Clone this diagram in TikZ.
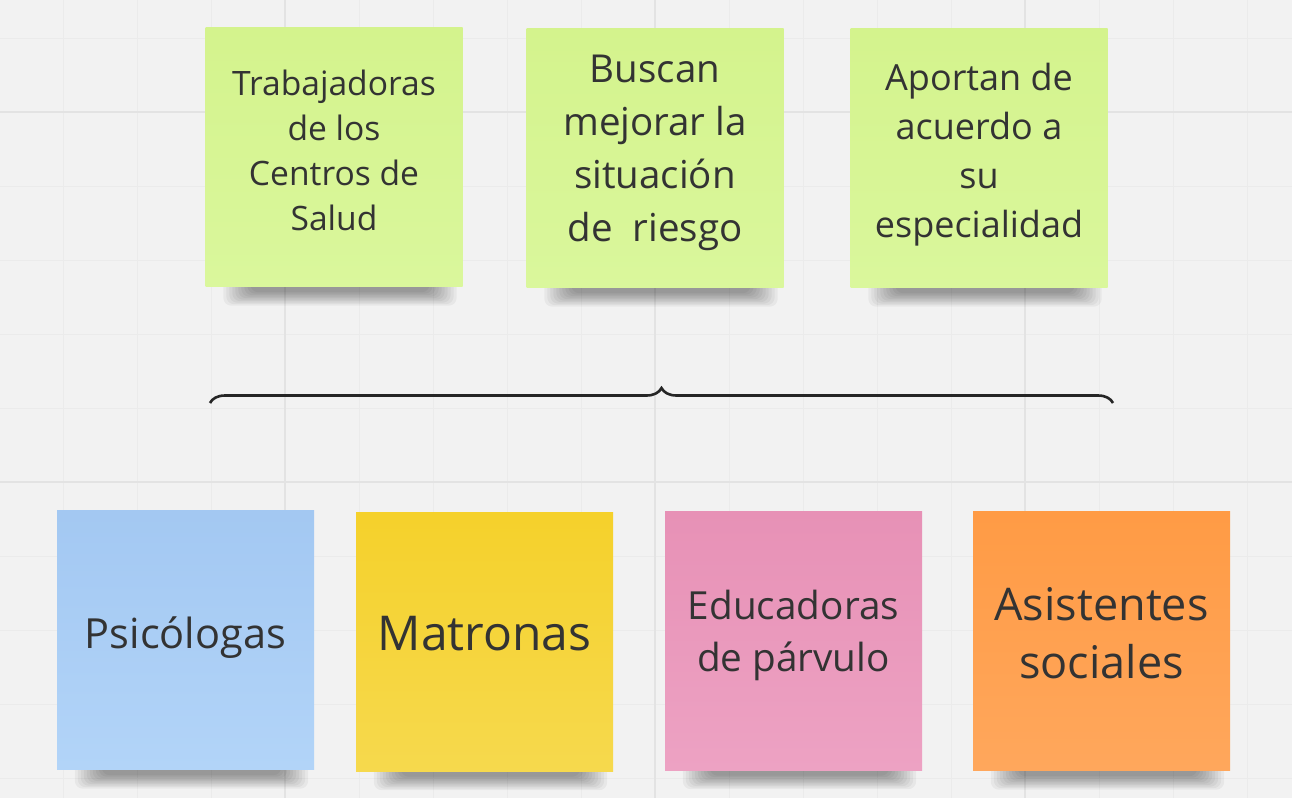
\documentclass[tikz,border=0pt]{standalone}
\usepackage{fontspec}
\setmainfont{Open Sans}
\usetikzlibrary{backgrounds,decorations.pathreplacing}

\definecolor{boardbg}{HTML}{F2F2F2}
\definecolor{gridminor}{HTML}{EBEBEB}
\definecolor{gridmajor}{HTML}{E3E3E3}
\definecolor{inktext}{HTML}{333333}
\definecolor{greenA}{HTML}{D4F38D}
\definecolor{greenB}{HTML}{DAF79C}
\definecolor{blueA}{HTML}{A3C8F2}
\definecolor{blueB}{HTML}{B2D4F8}
\definecolor{yellowA}{HTML}{F5D12B}
\definecolor{yellowB}{HTML}{F6D94D}
\definecolor{pinkA}{HTML}{E791B6}
\definecolor{pinkB}{HTML}{EDA2C3}
\definecolor{orangeA}{HTML}{FF9B45}
\definecolor{orangeB}{HTML}{FFA75C}

\begin{document}
\begin{tikzpicture}[
                x=1pt, y=-1pt,
                every node/.style={inner sep=0pt, text=inktext, align=center},
                sticky/.style={minimum width=257pt, minimum height=259pt},
                greennote/.style={sticky, top color=greenA, bottom color=greenB},
                bluenote/.style={sticky, top color=blueA, bottom color=blueB},
                yellownote/.style={sticky, top color=yellowA, bottom color=yellowB},
                pinknote/.style={sticky, top color=pinkA, bottom color=pinkB},
                orangenote/.style={sticky, top color=orangeA, bottom color=orangeB},
                bracket/.style={decorate, decoration={brace, amplitude=15pt},
                        line width=2.6pt, draw=black!85}
            ]
            \useasboundingbox (0,0) rectangle (1292,798);

            % top row
            \node[greennote] (trab) at (334,157) {};
            \node[font=\fontsize{33.6}{45}\selectfont] at ([yshift=7pt]trab)
                {Trabajadoras\\de los\\Centros de\\Salud};
            \node[greennote] (busc) at (655,158) {};
            \node[font=\fontsize{38.5}{53}\selectfont] at ([yshift=5pt]busc)
                {Buscan\\mejorar la\\situación\\de\ \ riesgo};
            \node[greennote] (apor) at (979,158) {};
            \node[font=\fontsize{36}{49}\selectfont] at ([yshift=3pt]apor)
                {Aportan de\\acuerdo a\\su\\especialidad};

            % brace
            \coordinate (braceL) at (210,403);
            \coordinate (braceR) at (1113,403);
            \draw[bracket] (braceL) -- (braceR);

            % bottom row
            \node[bluenote] (psic) at (185.5,640) {};
            \node[font=\fontsize{41.5}{52}\selectfont] at ([yshift=2pt]psic) {Psicólogas};
            \node[yellownote] (matr) at (484.5,641.5) {};
            \node[font=\fontsize{48}{60}\selectfont] at ([yshift=8pt]matr) {Matronas};
            \node[pinknote] (educ) at (793.5,640.5) {};
            \node[font=\fontsize{38.7}{52}\selectfont] at ([yshift=5pt]educ) {Educadoras\\de párvulo};
            \node[orangenote] (asis) at (1101.5,641) {};
            \node[font=\fontsize{45}{57.7}\selectfont] at ([yshift=8pt]asis) {Asistentes\\sociales};

            \begin{pgfonlayer}{background}
                \fill[boardbg] (0,0) rectangle (1292,798);
                \foreach \gx in {63,137,...,1292}
                    \draw[gridminor, line width=1pt] (\gx,0) -- (\gx,798);
                \foreach \gy in {38,112,...,798}
                    \draw[gridminor, line width=1pt] (0,\gy) -- (1292,\gy);
                \foreach \gx in {285,655,1025}
                    \draw[gridmajor, line width=2pt] (\gx,0) -- (\gx,798);
                \foreach \gy in {112,482}
                    \draw[gridmajor, line width=2pt] (0,\gy) -- (1292,\gy);
                % soft shadows under the notes
                \foreach \n in {trab,busc,apor,psic,matr,educ,asis}
                    \foreach \k in {0,...,9}
                        \fill[black, opacity=0.045, rounded corners=8pt]
                            ([xshift={(18+3*\k)*1pt}, yshift=8pt]\n.south west)
                            rectangle ([xshift={(-6-3*\k)*1pt}, yshift={(-19+1.5*\k)*1pt}]\n.south east);
            \end{pgfonlayer}

        \end{tikzpicture}
\end{document}
